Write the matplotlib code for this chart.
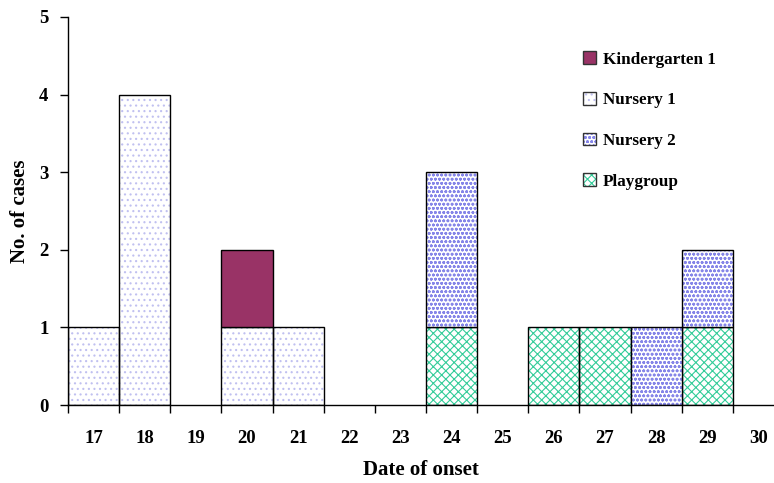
import matplotlib.pyplot as plt
from matplotlib.patches import Patch
import numpy as np

plt.rcParams['font.family'] = 'Liberation Serif'
plt.rcParams['font.weight'] = 'bold'
plt.rcParams['hatch.linewidth'] = 0.8

days = ['17', '18', '19', '20', '21', '22', '23', '24', '25', '26', '27', '28', '29', '30']
nursery1 = [1, 4, 0, 1, 1, 0, 0, 0, 0, 0, 0, 0, 0, 0]
playgroup = [0, 0, 0, 0, 0, 0, 0, 1, 0, 1, 1, 0, 1, 0]
kindergarten1 = [0, 0, 0, 1, 0, 0, 0, 0, 0, 0, 0, 0, 0, 0]
nursery2 = [0, 0, 0, 0, 0, 0, 0, 2, 0, 0, 0, 1, 1, 0]

series = [
    ('Nursery 1', nursery1, 'white', '#c0c0f0', '...'),
    ('Playgroup', playgroup, 'white', '#33cc99', 'xxxx'),
    ('Kindergarten 1', kindergarten1, '#993366', '#993366', ''),
    ('Nursery 2', nursery2, 'white', '#8585e8', 'oooo'),
]

fig = plt.figure(figsize=(7.74, 4.83), dpi=100)
ax = fig.add_axes([68 / 774, 78 / 483, 716 / 774, 388 / 483])

x = np.arange(len(days))
bottom = np.zeros(len(days))
handles = {}
for name, vals, fc, hc, hatch in series:
    vals = np.array(vals, dtype=float)
    m = vals > 0
    ax.bar(x[m], vals[m], width=1.0, bottom=bottom[m], color=fc, edgecolor=hc,
           hatch=hatch, linewidth=0)
    ax.bar(x[m], vals[m], width=1.0, bottom=bottom[m], fill=False, edgecolor='black',
           linewidth=1.0)
    bottom += vals
    handles[name] = (Patch(facecolor=fc, edgecolor=hc, hatch=hatch, linewidth=0),
                     Patch(fill=False, edgecolor='#333333', linewidth=1.0))

ax.set_xlim(-0.5, len(days) - 0.5)
ax.set_ylim(0, 5)
ax.set_yticks(range(6))
ax.set_xticks(x)
ax.set_xticklabels(days, fontsize=13.5, fontweight='bold')
ax.set_xticks(np.arange(-0.5, len(days) - 1, 1.0), minor=True)
ax.tick_params(axis='x', which='major', length=0, pad=18)
ax.tick_params(axis='x', which='minor', length=6, width=1, direction='out')
ax.tick_params(axis='y', length=6, width=1, direction='out', labelsize=13.5, pad=8)
for lab in ax.get_yticklabels():
    lab.set_fontweight('bold')
ax.spines['top'].set_visible(False)
ax.spines['right'].set_visible(False)
ax.spines['left'].set_linewidth(1)
ax.spines['bottom'].set_linewidth(1)

fig.text(20 / 774, 1 - 211 / 483, 'No. of cases', rotation=90, ha='center', va='center',
         fontsize=15, fontweight='bold')
fig.text(421 / 774, 1 - 470 / 483, 'Date of onset', ha='center', va='center',
         fontsize=15, fontweight='bold')

order = ['Kindergarten 1', 'Nursery 1', 'Nursery 2', 'Playgroup']
fig.legend([handles[n] for n in order], order, loc='upper left',
           bbox_to_anchor=(568 / 774, 1 - 36 / 483), frameon=False,
           prop={'family': 'Liberation Serif', 'weight': 'bold', 'size': 12.3},
           handlelength=0.75, handleheight=0.75, handletextpad=0.4, labelspacing=1.43)

fig.savefig('out.png', dpi=100)
